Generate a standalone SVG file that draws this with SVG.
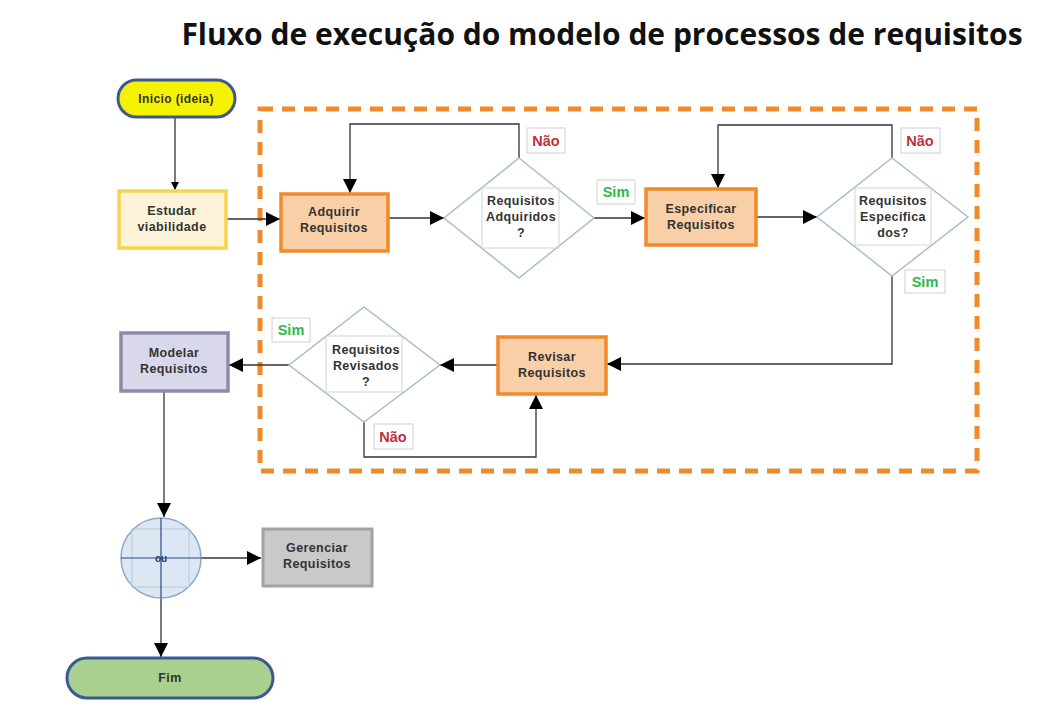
<svg xmlns="http://www.w3.org/2000/svg" width="1050" height="711" viewBox="0 0 1050 711">
<defs>
<marker id="ah" viewBox="0 0 10 10" refX="10" refY="5" markerWidth="16" markerHeight="14" markerUnits="userSpaceOnUse" orient="auto"><path d="M0,0 L10,5 L0,10 z" fill="#000"/></marker>
<marker id="ahs" viewBox="0 0 10 10" refX="10" refY="5" markerWidth="9" markerHeight="8" markerUnits="userSpaceOnUse" orient="auto"><path d="M0,0 L10,5 L0,10 z" fill="#000"/></marker>
</defs>
<style>
.t{font-family:"Liberation Sans",Arial,sans-serif;font-size:12.5px;letter-spacing:0.4px;font-weight:bold;fill:#333;text-anchor:middle}
.title{font-family:"Open Sans","Noto Sans",sans-serif;font-size:30px;font-weight:bold;fill:#111;text-anchor:middle}
.c{fill:none;stroke:#333;stroke-width:1.3}
.dia{fill:#fff;stroke:#a9bccf;stroke-width:1.5}
.inner{fill:none;stroke:#d4d4d4;stroke-width:1}
.org{fill:#f9cfa8;stroke:#f08a2a;stroke-width:3.5}
.lbl{fill:#fff;stroke:#d0d0d0;stroke-width:1}
.nao{font-family:"Liberation Sans",Arial,sans-serif;font-size:14.5px;font-weight:bold;fill:#c0303a;text-anchor:middle}
.sim{font-family:"Liberation Sans",Arial,sans-serif;font-size:14.5px;font-weight:bold;fill:#2eb84a;text-anchor:middle}
</style>
<rect width="1050" height="711" fill="#fff"/>
<text class="title" x="602" y="45">Fluxo de execução do modelo de processos de requisitos</text>

<rect x="260" y="109" width="717" height="362" fill="none" stroke="#f08a2a" stroke-width="5" stroke-dasharray="13 9"/>

<g id="connectors">
<path class="c" d="M175,117 V190" marker-end="url(#ahs)"/>
<path class="c" d="M226,219 H280" marker-end="url(#ah)"/>
<path class="c" d="M389,218 H444" marker-end="url(#ah)"/>
<path class="c" d="M519,158 V124 H350 V193" marker-end="url(#ah)"/>
<path class="c" d="M594,218 H645" marker-end="url(#ah)"/>
<path class="c" d="M757,217 H817" marker-end="url(#ah)"/>
<path class="c" d="M892,158 V125 H718 V188" marker-end="url(#ah)"/>
<path class="c" d="M892,276 V364 H607" marker-end="url(#ah)"/>
<path class="c" d="M497,365 H440" marker-end="url(#ah)"/>
<path class="c" d="M289,365 H229" marker-end="url(#ah)"/>
<path class="c" d="M364,422 V457 H536 V395" marker-end="url(#ah)"/>
<path class="c" d="M164,391 V517" marker-end="url(#ah)"/>
<path class="c" d="M201,558 H261" marker-end="url(#ah)"/>
<path class="c" d="M161,598 V657" marker-end="url(#ah)"/>
</g>

<g id="inicio">
<rect x="118" y="80" width="117" height="37" rx="18.5" fill="#f5f200" stroke="#3b5a94" stroke-width="3"/>
<text class="t" x="176" y="103" style="font-size:12px">Inicio (ideia)</text>
</g>

<g id="estudar">
<rect x="119" y="191" width="107" height="57" fill="#fdf3d8" stroke="#f6d54a" stroke-width="3.5"/>
<text class="t" x="172" y="215">Estudar</text>
<text class="t" x="172" y="231">viabilidade</text>
</g>

<g id="adquirir">
<rect class="org" x="281" y="194" width="107" height="57"/>
<text class="t" x="334" y="216">Adquirir</text>
<text class="t" x="334" y="232">Requisitos</text>
</g>

<g id="dec1">
<path class="dia" d="M519,158 L594,218 L519,278 L444,218 z"/>
<rect class="inner" x="482" y="188" width="77" height="60"/>
<text class="t" x="521" y="205">Requisitos</text>
<text class="t" x="521" y="221">Adquiridos</text>
<text class="t" x="521" y="237">?</text>
</g>

<g id="lbl1">
<rect class="lbl" x="527" y="128" width="38" height="25"/>
<text class="nao" x="546" y="146">Não</text>
<rect class="lbl" x="597" y="180" width="38" height="24"/>
<text class="sim" x="616" y="197">Sim</text>
</g>

<g id="especificar">
<rect class="org" x="646" y="189" width="110" height="56"/>
<text class="t" x="701" y="213">Especificar</text>
<text class="t" x="701" y="229">Requisitos</text>
</g>

<g id="dec2">
<path class="dia" d="M892,158 L968,217 L892,276 L817,217 z"/>
<rect class="inner" x="855" y="188" width="76" height="57"/>
<text class="t" x="893" y="205">Requisitos</text>
<text class="t" x="893" y="221">Especifica</text>
<text class="t" x="893" y="237">dos?</text>
</g>

<g id="lbl2">
<rect class="lbl" x="901" y="128" width="39" height="25"/>
<text class="nao" x="920" y="146">Não</text>
<rect class="lbl" x="905" y="270" width="40" height="23"/>
<text class="sim" x="925" y="287">Sim</text>
</g>

<g id="revisar">
<rect class="org" x="498" y="337" width="108" height="57"/>
<text class="t" x="552" y="361">Revisar</text>
<text class="t" x="552" y="377">Requisitos</text>
</g>

<g id="dec3">
<path class="dia" d="M364,307 L440,365 L364,422 L289,365 z"/>
<rect class="inner" x="326" y="336" width="76" height="56"/>
<text class="t" x="366" y="354">Requisitos</text>
<text class="t" x="366" y="370">Revisados</text>
<text class="t" x="366" y="386">?</text>
</g>

<g id="lbl3">
<rect class="lbl" x="272" y="318" width="38" height="24"/>
<text class="sim" x="291" y="335">Sim</text>
<rect class="lbl" x="374" y="424" width="39" height="25"/>
<text class="nao" x="393" y="442">Não</text>
</g>

<g id="modelar">
<rect x="121" y="333" width="107" height="58" fill="#d8d8ea" stroke="#8d8ba8" stroke-width="3.5"/>
<text class="t" x="174" y="357">Modelar</text>
<text class="t" x="174" y="373">Requisitos</text>
</g>

<g id="ou">
<circle cx="161" cy="558" r="40" fill="#dce7f4" stroke="#8ea8c8" stroke-width="1.5"/>
<path d="M132,529 V587 M189,529 V587 M132,529 H189 M132,587 H189" stroke="#b8c8dc" stroke-width="1" fill="none"/>
<path d="M161,518 V598 M121,558 H201" stroke="#2a4a8a" stroke-width="1.2"/>
<text x="161" y="562" font-family="Liberation Sans,Arial,sans-serif" font-size="10" font-weight="bold" fill="#2a3a6a" text-anchor="middle">ou</text>
</g>

<g id="gerenciar">
<rect x="263" y="529" width="109" height="57" fill="#c9c9c9" stroke="#a2a2a2" stroke-width="3"/>
<text class="t" x="317" y="552">Gerenciar</text>
<text class="t" x="317" y="568">Requisitos</text>
</g>

<g id="fim">
<rect x="67" y="658" width="206" height="40" rx="20" fill="#a9d08e" stroke="#3b5a94" stroke-width="3"/>
<text class="t" x="170" y="682">Fim</text>
</g>
</svg>
